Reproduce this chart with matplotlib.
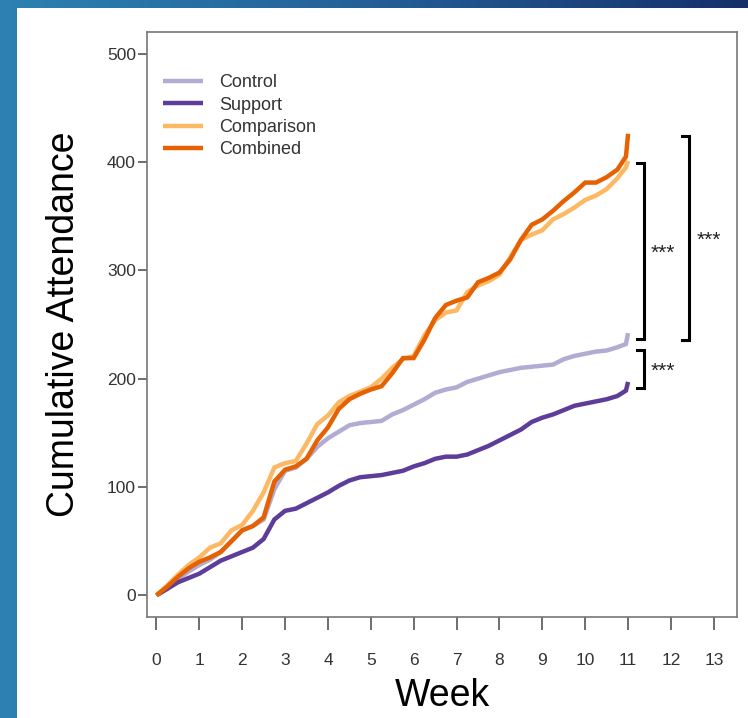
"""
Cumulative attendance by week for four groups, with significance brackets.
"""

import matplotlib
matplotlib.use("Agg")
import matplotlib.pyplot as plt
import matplotlib.patches as mpatches
from matplotlib.colors import LinearSegmentedColormap
import numpy as np

plt.rcParams["font.family"] = ["Liberation Sans", "DejaVu Sans"]

# ---------------------------------------------------------------------------
# Data
# ---------------------------------------------------------------------------
weeks = [0, 0.25, 0.5, 0.75, 1, 1.25, 1.5, 1.75, 2, 2.25, 2.5, 2.75,
         3, 3.25, 3.5, 3.75, 4, 4.25, 4.5, 4.75, 5, 5.25, 5.5, 5.75,
         6, 6.25, 6.5, 6.75, 7, 7.25, 7.5, 7.75, 8, 8.25, 8.5, 8.75,
         9, 9.25, 9.5, 9.75, 10, 10.25, 10.5, 10.75, 10.95, 11]

control = [0, 6, 15, 22, 28, 33, 40, 50, 60, 64, 70, 98,
           115, 118, 126, 137, 145, 151, 157, 159, 160, 161, 167, 171,
           176, 181, 187, 190, 192, 197, 200, 203, 206, 208, 210, 211,
           212, 213, 218, 221, 223, 225, 226, 229, 232, 242]

support = [0, 6, 12, 16, 20, 26, 32, 36, 40, 44, 52, 70,
           78, 80, 85, 90, 95, 101, 106, 109, 110, 111, 113, 115,
           119, 122, 126, 128, 128, 130, 134, 138, 143, 148, 153, 160,
           164, 167, 171, 175, 177, 179, 181, 184, 189, 197]

comparison = [0, 9, 19, 28, 35, 44, 48, 60, 65, 78, 95, 118,
              122, 124, 140, 158, 166, 178, 184, 188, 192, 200, 210, 218,
              221, 240, 254, 261, 263, 280, 286, 290, 296, 312, 328, 333,
              337, 347, 352, 358, 365, 369, 375, 385, 395, 401]

combined = [0, 8, 17, 25, 31, 35, 40, 50, 60, 64, 72, 105,
            116, 119, 126, 143, 155, 172, 181, 186, 190, 193, 205, 219,
            219, 236, 256, 268, 272, 275, 289, 293, 298, 310, 328, 342,
            347, 355, 364, 372, 381, 381, 386, 393, 405, 426]

groups = ["Control", "Support", "Comparison", "Combined"]
colors = ["#b2abd2", "#5e3c99", "#fdb863", "#e66101"]

# significance brackets: (x, y_top, y_bottom, label)
brackets = [
    (11.36, 399, 237, "***"),
    (12.42, 424, 236, "***"),
    (11.36, 226, 191, "***"),
]

# ---------------------------------------------------------------------------
# Figure
# ---------------------------------------------------------------------------
W, H = 748, 718
fig = plt.figure(figsize=(W / 100, H / 100), dpi=100)

# slide background: blue gradient with white panel
bg = fig.add_axes([0, 0, 1, 1], zorder=-10)
grad = np.linspace(0, 1, 256)[None, :]
bg_cmap = LinearSegmentedColormap.from_list("bg", ["#2c82b2", "#245f96", "#15306b"])
bg.imshow(grad, aspect="auto", cmap=bg_cmap, extent=[0, 1, 0, 1])
bg.add_patch(mpatches.Rectangle((17 / W, 0), 1, (H - 8) / H,
                                facecolor="white", edgecolor="none"))
bg.set_xlim(0, 1)
bg.set_ylim(0, 1)
bg.axis("off")

ax = fig.add_axes([147 / W, 101 / H, 590 / W, 585 / H])

series = [control, support, comparison, combined]
for name, vals, c in zip(groups, series, colors):
    ax.plot(weeks, vals, color=c, linewidth=3.2, label=name,
            solid_joinstyle="miter", solid_capstyle="butt")

# brackets
for bx, ytop, ybot, lab in brackets:
    arm = 0.16
    ax.plot([bx - arm, bx, bx, bx - arm], [ytop, ytop, ybot, ybot],
            color="black", linewidth=2.2, clip_on=False,
            solid_joinstyle="miter")
    ax.text(bx + 0.17, (ytop + ybot) / 2 - 2, lab, ha="left", va="center",
            fontsize=15, color="#222222")

ax.set_xlim(-0.22, 13.54)
ax.set_ylim(-20, 520)
ax.set_xticks(range(0, 14))
ax.set_yticks([0, 100, 200, 300, 400, 500])

for sp in ax.spines.values():
    sp.set_color("#777777")
    sp.set_linewidth(1.2)

ax.tick_params(axis="both", direction="out", width=1.2,
               color="#555555", labelsize=12.5, labelcolor="#333333")
ax.tick_params(axis="x", length=9, pad=17)
ax.tick_params(axis="y", length=6.5, pad=1.5)

ax.set_xlabel("Week", fontsize=27, labelpad=7)
ax.set_ylabel("Cumulative Attendance", fontsize=27, labelpad=18)

leg = ax.legend(loc="upper left", bbox_to_anchor=(0.027, 0.928),
                frameon=False, fontsize=13, handlelength=2.2,
                handletextpad=0.9, labelspacing=0.3, borderpad=0,
                borderaxespad=0)
for t in leg.get_texts():
    t.set_color("#333333")

fig.savefig("out.png", dpi=100, facecolor="white")
